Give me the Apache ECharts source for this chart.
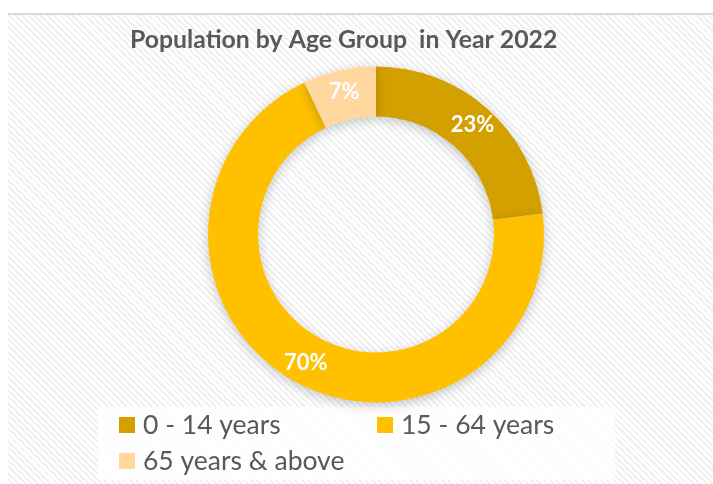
<!DOCTYPE html>
<html>
<head>
<meta charset="utf-8">
<script src="https://cdn.jsdelivr.net/npm/echarts@6/dist/echarts.min.js"></script>
<style>
  html, body { margin: 0; padding: 0; background: #fff; }
  #frame {
    position: absolute; left: 8px; top: 13px; width: 705px; height: 469px;
    border-top: 2px solid #d9d9d9;
    background: repeating-linear-gradient(45deg, #ffffff 0px, #ffffff 2.5px, #f1f1f1 2.5px, #f1f1f1 4.5px);
  }
  #chart { position: absolute; left: 0; top: 0; width: 713px; height: 484px; }
</style>
</head>
<body>
<div id="frame"></div>
<div id="chart"></div>
<script>
// Age groups and their share of the population (%)
const categories = ['0 - 14 years', '15 - 64 years', '65 years & above'];
const shares = [23, 70, 7];
const colors = ['#D4A000', '#FFC000', '#FFD79F'];

const FONT = 'Lato, "Open Sans", sans-serif';

const chart = echarts.init(document.getElementById('chart'), null, { renderer: 'canvas' });

chart.setOption({
  backgroundColor: 'transparent',
  animation: false,
  title: {
    text: 'Population by Age Group  in Year 2022',
    left: 130,
    top: 28,
    padding: 0,
    textStyle: { fontFamily: FONT, fontSize: 24.8, fontWeight: 'bold', color: '#595959' }
  },
  graphic: [{
    type: 'rect',
    z: -1,
    shape: { x: 98, y: 407, width: 517, height: 73 },
    style: { fill: 'rgba(255,255,255,0.85)' }
  }],
  legend: {
    data: categories,
    left: 119,
    top: 411,
    width: 520,
    padding: 0,
    itemGap: 8,
    itemWidth: 16,
    itemHeight: 16,
    icon: 'rect',
    textStyle: {
      fontFamily: FONT, fontSize: 26.5, color: '#595959',
      lineHeight: 28, width: 226, padding: [0, 0, 0, 3]
    }
  },
  series: [{
    type: 'pie',
    center: [376, 234.5],
    radius: [118, 168],
    startAngle: 90,
    clockwise: true,
    silent: true,
    itemStyle: {
      shadowBlur: 12,
      shadowOffsetY: 3,
      shadowColor: 'rgba(0,0,0,0.22)'
    },
    label: {
      position: 'inside',
      formatter: p => p.value + '%',
      fontFamily: FONT,
      fontSize: 22,
      fontWeight: 'bold',
      color: '#ffffff'
    },
    labelLine: { show: false },
    data: categories.map((name, i) => ({
      name, value: shares[i], itemStyle: { color: colors[i] }
    }))
  }]
});
</script>
</body>
</html>
